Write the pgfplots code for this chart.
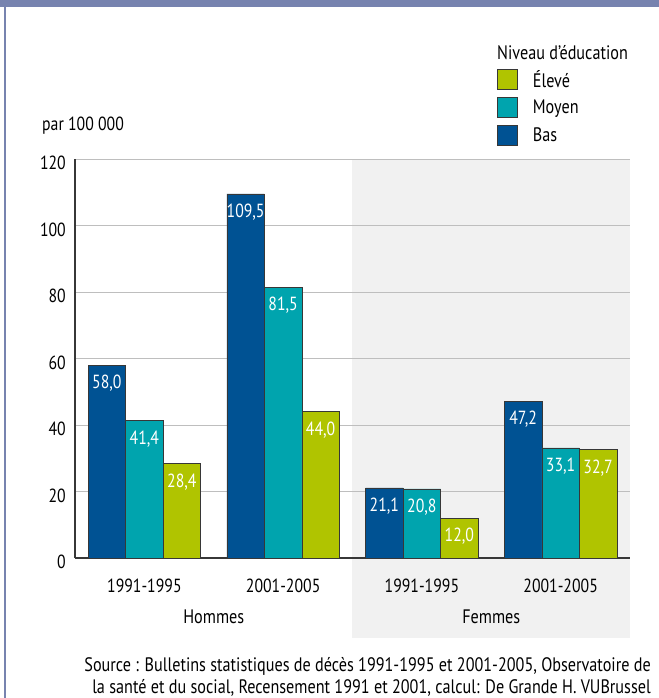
\documentclass[border=0pt]{standalone}
\usepackage{fontspec}
\setmainfont{PT Sans}[FakeStretch=0.83]
\usepackage{pgfplots}
\pgfplotsset{compat=1.18}
\definecolor{bas}{RGB}{0,82,147}
\definecolor{moyen}{RGB}{0,164,174}
\definecolor{eleve}{RGB}{176,196,0}
\definecolor{framec}{RGB}{119,131,175}
\definecolor{bggray}{RGB}{241,241,241}
\definecolor{gridgray}{RGB}{190,190,190}
\definecolor{axisdark}{RGB}{55,55,55}
\newcommand{\fs}{\fontsize{19.5bp}{23bp}\selectfont}
\newcommand{\fn}{\fontsize{19bp}{23bp}\selectfont}
\pgfplotsset{sqlegend/.style={legend image code/.code={\draw[##1,draw=axisdark,line width=0.8bp] (0bp,-10bp) rectangle (20bp,10bp); \path (35bp,0bp);}}}
\begin{document}
\begin{tikzpicture}[x=1bp,y=1bp,font=\fs]
\path[use as bounding box, fill=white] (0,0) rectangle (659,-698);
\fill[framec] (0,0) rectangle (659,-7);
\fill[framec] (4,-7) rectangle (6,-698);
\fill[bggray] (352,-159) rectangle (630,-638);
\node[anchor=base west,inner sep=0] at (497,-60) {Niveau d'éducation};
\node[anchor=base west,inner sep=0,font=\fn] at (42,-131) {par 100 000};
\node[anchor=base east,inner sep=0] at (651,-671) {Source : Bulletins statistiques de décès 1991-1995 et 2001-2005, Observatoire de};
\node[anchor=base east,inner sep=0] at (651,-693) {la santé et du social, Recensement 1991 et 2001, calcul: De Grande H. VUBrussel};
\begin{axis}[
  at={(75bp,-558bp)}, anchor=south west,
  scale only axis, width=555bp, height=399bp,
  xmin=-0.5, xmax=3.5, ymin=0, ymax=120,
  ybar=0pt, bar width=37.5bp,
  axis x line=bottom, axis y line=left,
  axis line style={-, axisdark, line width=1.2bp},
  ymajorgrids, grid style={gridgray, line width=0.8bp},
  ytick={0,20,...,120},
  xtick={0,1,2,3},
  xticklabels={1991-1995,2001-2005,1991-1995,2001-2005},
  major tick length=0pt,
  /pgf/number format/assume math mode=true,
  ticklabel style={font=\fn, inner sep=0pt},
  yticklabel style={xshift=-9bp, yshift=-4bp},
  xticklabel style={yshift=-21bp},
  clip=false,
  nodes near coords={\pgfmathprintnumber[fixed,fixed zerofill,precision=1,use comma,assume math mode=true]{\pgfplotspointmeta}},
  nodes near coords style={anchor=north, yshift=-10bp, inner sep=0pt, white, font=\fn},
  reverse legend,
  legend cell align=left,
  legend style={at={(axis description cs:0.7604,1.2256)}, anchor=north west, draw=none, fill=none, inner sep=0pt, row sep=7bp, nodes={inner sep=0pt}, font=\fs},
]
\addplot[fill=bas, draw=axisdark, line width=0.6bp, sqlegend] coordinates {(0,58.0) (1,109.5) (2,21.1) (3,47.2)};
\addlegendentry{Bas}
\addplot[fill=moyen, draw=axisdark, line width=0.6bp, sqlegend] coordinates {(0,41.4) (1,81.5) (2,20.8) (3,33.1)};
\addlegendentry{Moyen}
\addplot[fill=eleve, draw=axisdark, line width=0.6bp, sqlegend] coordinates {(0,28.4) (1,44.0) (2,12.0) (3,32.7)};
\addlegendentry{Élevé}
\node[font=\fs] at (axis cs:0.5,0) [yshift=-59bp] {Hommes};
\node[font=\fs] at (axis cs:2.5,0) [yshift=-59bp] {Femmes};
\end{axis}
\end{tikzpicture}
\end{document}
